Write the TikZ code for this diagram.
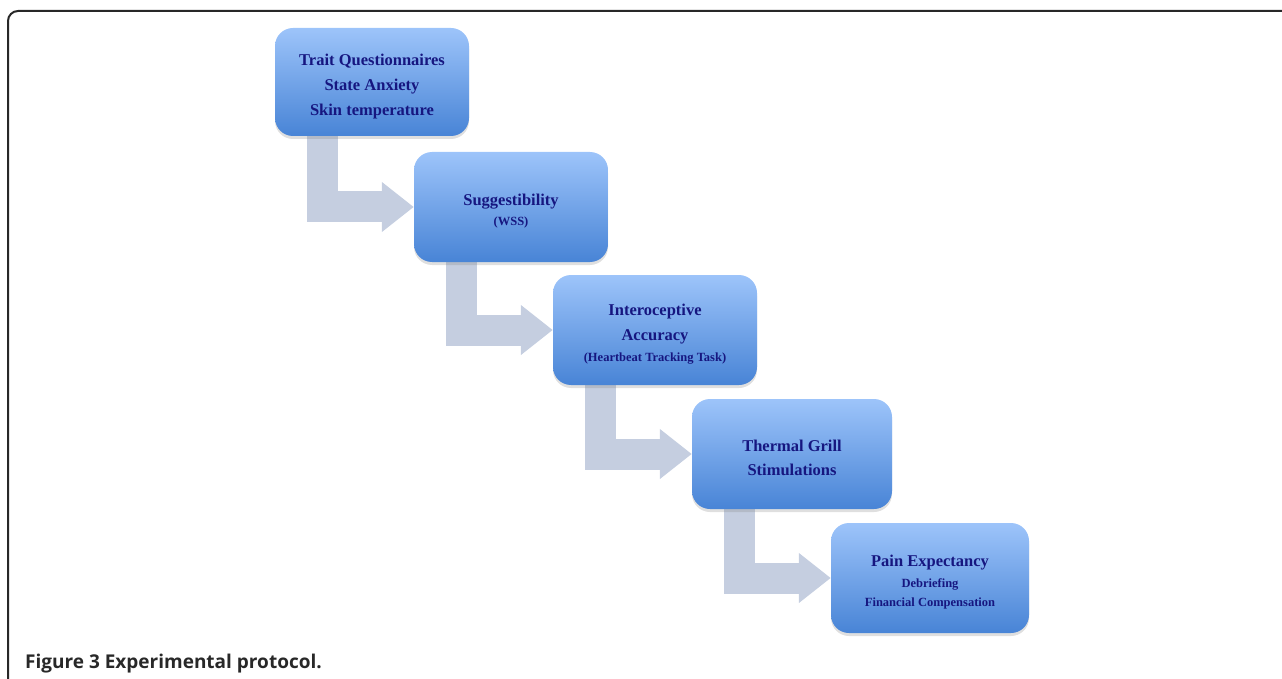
\documentclass[tikz,border=0pt]{standalone}
\usepackage{fontspec}
\setmainfont{Liberation Serif}
\newfontfamily\capfont{Open Sans}
\usetikzlibrary{arrows.meta,shadows,backgrounds}
\definecolor{boxtop}{RGB}{157,196,250}
\definecolor{boxbot}{RGB}{72,132,214}
\definecolor{navy}{RGB}{22,22,128}
\definecolor{flowgrey}{RGB}{197,206,224}
\definecolor{frame}{RGB}{40,40,40}
\newcommand\stagesmall{\fontsize{12.5}{15}\selectfont}
\newcommand\topgap{\rule{0pt}{20pt}}
\tikzset{
  stage/.style={rounded corners=18pt, minimum height=110pt, align=center,
    font=\fontsize{16.5}{25}\selectfont\bfseries,
    top color=boxtop, bottom color=boxbot, text=navy,
    drop shadow={shadow xshift=0pt, shadow yshift=-3pt, opacity=0.25}},
  flow/.style={draw=flowgrey, line width=31pt, line join=miter,
    -{Triangle[length=32pt 0,width=48pt 0]}}
}
\begin{document}
\begin{tikzpicture}[x=1pt,y=-1pt]
\useasboundingbox (0,0) rectangle (1282,679);
%%% frame of the figure
\draw[line width=2pt, frame, rounded corners=10pt] (8,679) -- (8,11) -- (1282,11);
\node[anchor=base west, inner sep=0pt, text=frame] (cap) at (25,668)
  {\capfont\fontsize{19}{20}\selectfont\bfseries Figure 3 Experimental protocol.};
%%% the five stages
\node[stage, minimum width=194pt, minimum height=108pt] (trait) at (372,82)
  {\topgap Trait Questionnaires\\ State Anxiety\\ Skin temperature};
\node[stage, minimum width=194pt] (suggest) at (511,207)
  {\topgap Suggestibility\\[-5pt] \stagesmall (WSS)};
\node[stage, minimum width=204pt] (intero) at (655,330)
  {\topgap Interoceptive\\ Accuracy\\[-4pt] \stagesmall (Heartbeat Tracking Task)};
\node[stage, minimum width=200pt] (thermal) at (792,454)
  {\topgap Thermal Grill\\[-1pt] Stimulations};
\node[stage, minimum width=198pt] (pain) at (930,578)
  {\topgap Pain Expectancy\\[-4pt] \stagesmall Debriefing\\[-6pt] \stagesmall Financial Compensation};
%%% bent arrows between the stages
\begin{scope}[on background layer]
\draw[flow] ([xshift=48pt]trait.south west) |- (suggest.west);
\draw[flow] ([xshift=48pt]suggest.south west) |- (intero.west);
\draw[flow] ([xshift=48pt]intero.south west) |- (thermal.west);
\draw[flow] ([xshift=48pt]thermal.south west) |- (pain.west);
\end{scope}
\end{tikzpicture}
\end{document}
